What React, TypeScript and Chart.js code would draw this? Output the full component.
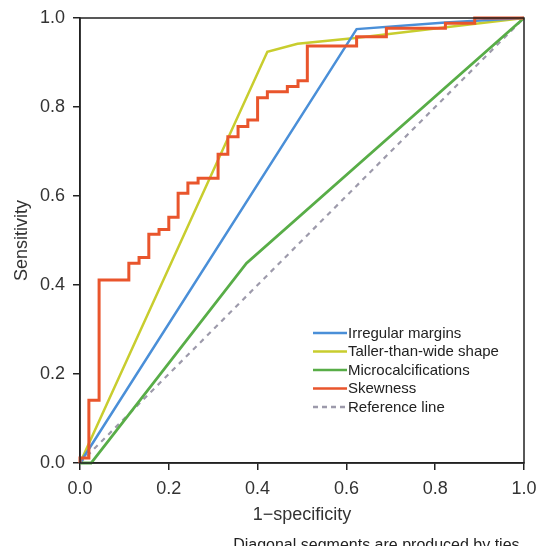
import React, { useEffect, useRef } from "react";
import { Chart, registerables } from "chart.js";

Chart.register(...registerables);

// ---- data ----
const irregularFpr = [0, 0.623, 0.823, 1.0];
const irregularSens = [0, 0.975, 0.99, 1.0];

const tallerFpr = [0, 0.422, 0.49, 0.62, 1.0];
const tallerSens = [0, 0.924, 0.942, 0.955, 1.0];

const microFpr = [0, 0.025, 0.375, 1.0];
const microSens = [0, 0, 0.449, 1.0];

const skewFpr = [
  0, 0, 0.02, 0.02, 0.043, 0.043, 0.11, 0.11, 0.133, 0.133, 0.155, 0.155,
  0.178, 0.178, 0.2, 0.2, 0.221, 0.221, 0.243, 0.243, 0.266, 0.266, 0.311,
  0.311, 0.333, 0.333, 0.356, 0.356, 0.378, 0.378, 0.4, 0.4, 0.422, 0.422,
  0.467, 0.467, 0.491, 0.491, 0.512, 0.512, 0.623, 0.623, 0.69, 0.69, 0.823,
  0.823, 0.889, 0.889, 1.0,
];
const skewSens = [
  0, 0.011, 0.011, 0.141, 0.141, 0.411, 0.411, 0.449, 0.449, 0.462, 0.462,
  0.514, 0.514, 0.525, 0.525, 0.552, 0.552, 0.606, 0.606, 0.629, 0.629, 0.64,
  0.64, 0.694, 0.694, 0.733, 0.733, 0.756, 0.756, 0.771, 0.771, 0.821, 0.821,
  0.834, 0.834, 0.846, 0.846, 0.859, 0.859, 0.937, 0.937, 0.958, 0.958, 0.977,
  0.977, 0.988, 0.988, 1.0, 1.0,
];

const refFpr = [0, 1];
const refSens = [0, 1];

const tickValues = [0, 0.2, 0.4, 0.6, 0.8, 1.0];

const seriesNames = [
  "Irregular margins",
  "Taller-than-wide shape",
  "Microcalcifications",
  "Skewness",
  "Reference line",
];
const seriesColors = ["#4a8fd8", "#c8cd2e", "#58ad47", "#e9552c", "#9d9aab"];

const xTitle = "1\u2212specificity";
const yTitle = "Sensitivity";
const footnote = "Diagonal segments are produced by ties.";

const FONT = "'Liberation Sans', Arial, Helvetica, sans-serif";
const INK = "#222222";

const toPoints = (xs: number[], ys: number[]) =>
  xs.map((x, i) => ({ x, y: ys[i] }));

const framePlugin = {
  id: "frameLegendNote",
  afterDatasetsDraw(chart: any) {
    const { ctx, chartArea } = chart;
    const { left, top, right, bottom } = chartArea;
    ctx.save();
    // box
    ctx.strokeStyle = INK;
    ctx.lineWidth = 1.5;
    ctx.strokeRect(left, top, right - left, bottom - top);

    // legend
    const lx0 = left + 233;
    const lx1 = left + 267;
    const tx = left + 268;
    const y0 = top + 315;
    const dy = 18.5;
    ctx.font = `15px ${FONT}`;
    ctx.textBaseline = "middle";
    ctx.textAlign = "left";
    seriesNames.forEach((name, i) => {
      const y = y0 + i * dy;
      ctx.beginPath();
      ctx.strokeStyle = seriesColors[i];
      ctx.lineWidth = 2.5;
      ctx.setLineDash(i === 4 ? [5, 4] : []);
      ctx.moveTo(lx0, y);
      ctx.lineTo(lx1, y);
      ctx.stroke();
      ctx.setLineDash([]);
      ctx.fillStyle = INK;
      ctx.fillText(name, tx, y + 0.5);
    });

    // footnote
    ctx.font = `16px ${FONT}`;
    ctx.textAlign = "right";
    ctx.textBaseline = "middle";
    ctx.fillStyle = INK;
    ctx.fillText(footnote, right, chart.height - 8);
    ctx.restore();
  },
};

export default function App() {
  const canvasRef = useRef<HTMLCanvasElement | null>(null);

  useEffect(() => {
    if (!canvasRef.current) return;
    const common = {
      showLine: true,
      pointRadius: 0,
      pointHoverRadius: 0,
      fill: false,
      tension: 0,
      clip: false as any,
    };
    const chart = new Chart(canvasRef.current, {
      type: "scatter",
      data: {
        datasets: [
          {
            ...common,
            label: seriesNames[3],
            data: toPoints(skewFpr, skewSens),
            borderColor: seriesColors[3],
            backgroundColor: seriesColors[3],
            borderWidth: 3,
            order: 0,
          },
          {
            ...common,
            label: seriesNames[0],
            data: toPoints(irregularFpr, irregularSens),
            borderColor: seriesColors[0],
            backgroundColor: seriesColors[0],
            borderWidth: 2.5,
            order: 1,
          },
          {
            ...common,
            label: seriesNames[1],
            data: toPoints(tallerFpr, tallerSens),
            borderColor: seriesColors[1],
            backgroundColor: seriesColors[1],
            borderWidth: 2.5,
            order: 2,
          },
          {
            ...common,
            label: seriesNames[2],
            data: toPoints(microFpr, microSens),
            borderColor: seriesColors[2],
            backgroundColor: seriesColors[2],
            borderWidth: 2.8,
            order: 3,
          },
          {
            ...common,
            label: seriesNames[4],
            data: toPoints(refFpr, refSens),
            borderColor: seriesColors[4],
            backgroundColor: seriesColors[4],
            borderWidth: 2.2,
            borderDash: [5, 5],
            order: 4,
          },
        ],
      },
      options: {
        animation: false,
        responsive: true,
        maintainAspectRatio: false,
        layout: { padding: { left: 3, right: 12, top: 10, bottom: 28 } },
        plugins: {
          legend: { display: false },
          tooltip: { enabled: false },
        },
        scales: {
          x: {
            type: "linear",
            min: 0,
            max: 1,
            afterBuildTicks: (s: any) => {
              s.ticks = tickValues.map((v) => ({ value: v }));
            },
            afterFit: (s: any) => {
              s.height = 63;
              s.paddingLeft = 0;
              s.paddingRight = 0;
            },
            ticks: {
              color: "#333",
              font: { family: FONT, size: 18, lineHeight: 1.2 },
              padding: 8,
              maxRotation: 0,
              callback: (v: any) => Number(v).toFixed(1),
            },
            grid: {
              display: true,
              drawOnChartArea: false,
              drawTicks: true,
              tickLength: 7,
              color: INK,
              lineWidth: 1.5,
            },
            border: { display: true, color: INK, width: 1.5 },
            title: {
              display: true,
              text: xTitle,
              color: "#333",
              font: { family: FONT, size: 18, lineHeight: 1.2 },
              padding: { top: 0, bottom: 0 },
            },
          },
          y: {
            type: "linear",
            min: 0,
            max: 1,
            afterBuildTicks: (s: any) => {
              s.ticks = tickValues.map((v) => ({ value: v }));
            },
            afterFit: (s: any) => {
              s.width = 69;
              s.paddingTop = 0;
              s.paddingBottom = 0;
            },
            ticks: {
              color: "#333",
              font: { family: FONT, size: 18, lineHeight: 1.0 },
              padding: 8,
              callback: (v: any) => Number(v).toFixed(1),
            },
            grid: {
              display: true,
              drawOnChartArea: false,
              drawTicks: true,
              tickLength: 7,
              color: INK,
              lineWidth: 1.5,
            },
            border: { display: true, color: INK, width: 1.5 },
            title: {
              display: true,
              text: yTitle,
              color: "#333",
              font: { family: FONT, size: 18, lineHeight: 1.2 },
              padding: { top: 0, bottom: 0 },
            },
          },
        },
      },
      plugins: [framePlugin],
    });
    return () => chart.destroy();
  }, []);

  return (
    <div style={{ width: 528, height: 546, marginBottom: -8, position: "relative" }}>
      <canvas ref={canvasRef} />
    </div>
  );
}
